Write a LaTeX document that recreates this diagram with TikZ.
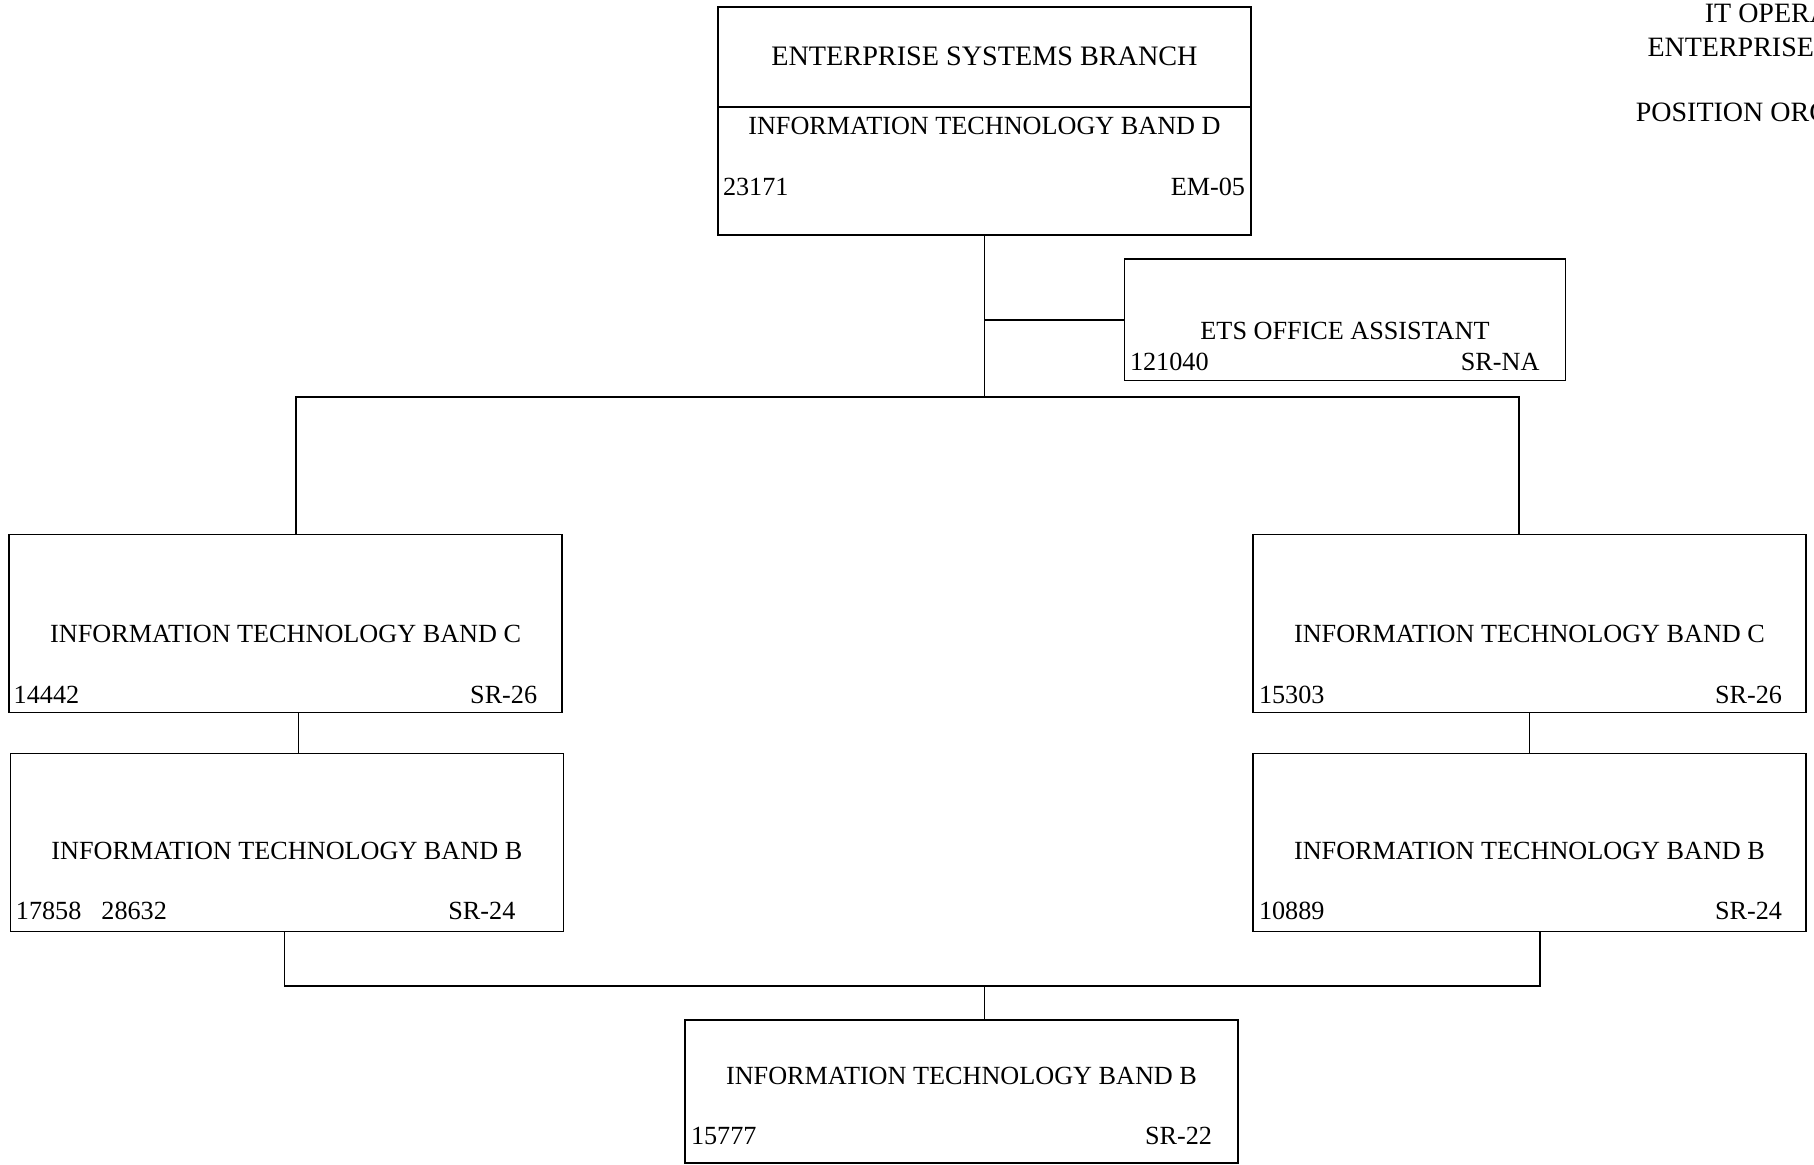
\documentclass[tikz,border=0pt]{standalone}
\usepackage{fontspec}
\setmainfont{Liberation Serif}
\usetikzlibrary{positioning,calc}

\begin{document}
\begin{tikzpicture}[x=0.5pt, y=0.5pt, line width=0.8pt,
    posbox/.style={rectangle, draw, inner sep=0pt, minimum width=276.5pt, minimum height=89pt},
    ttl/.style={font=\fontsize{13.1}{15}\selectfont, anchor=base, inner sep=0pt},
    num/.style={font=\fontsize{13.1}{15}\selectfont, inner sep=0pt},
    hdr/.style={font=\fontsize{14}{16}\selectfont, anchor=base west, inner sep=0pt}]
    \useasboundingbox (0,0) rectangle (1814,-1165);

    % header (cut at the page edge)
    \node [hdr] (hd1) at (1704,-22.7) {IT OPERA};
    \node [hdr] (hd2) at (1646.7,-56.7) {ENTERPRISE};
    \node [hdr] (hd3) at (1635,-121.7) {POSITION ORG};

    % boxes
    \node [posbox, minimum width=266.5pt, minimum height=114pt] (top) at (984.5,-121) {};
    \node [posbox, minimum width=220.5pt, minimum height=60.8pt] (ets) at (1345,-319.8) {};
    \node [posbox] (c1) at (285.65,-623.55) {};
    \node [posbox] (c2) at (1529.5,-623.55) {};
    \node [posbox, below=19.7pt of c1, xshift=0.6pt] (b1) {};
    \node [posbox, below=19.7pt of c2] (b2) {};
    \node [posbox, minimum height=71.4pt] (bot) at (961.5,-1091.4) {};

    % texts
    \draw ($(top.north west)+(0,-101)$) -- ($(top.north east)+(0,-101)$);
    \node [ttl, font=\fontsize{14.1}{16}\selectfont] (topt) at ($(top.north)+(0,-59)$) {ENTERPRISE SYSTEMS BRANCH};
    \node [ttl] (topb) at ($(top.north)+(0,-128)$) {INFORMATION TECHNOLOGY BAND D};
    \node [num, anchor=base west] (topn) at ($(top.south west)+(5,40)$) {23171};
    \node [num, anchor=base east] (topg) at ($(top.south east)+(-6,40)$) {EM-05};

    \node [ttl] (etst) at ($(ets.north)+(0,-81)$) {ETS OFFICE ASSISTANT};
    \node [num, anchor=base west] (etsn) at ($(ets.south west)+(5.5,10.6)$) {121040};
    \node [num, anchor=base east] (etsg) at ($(ets.south east)+(-26,10.6)$) {SR-NA};

    \node [ttl] (c1t) at ($(c1.north)+(0,-108.5)$) {INFORMATION TECHNOLOGY BAND C};
    \node [num, anchor=base west] (c1n) at ($(c1.south west)+(4.6,9.6)$) {14442};
    \node [num, anchor=base east] (c1g) at ($(c1.south east)+(-25,9.6)$) {SR-26};

    \node [ttl] (c2t) at ($(c2.north)+(0,-108.5)$) {INFORMATION TECHNOLOGY BAND C};
    \node [num, anchor=base west] (c2n) at ($(c2.south west)+(6,9.6)$) {15303};
    \node [num, anchor=base east] (c2g) at ($(c2.south east)+(-24,9.6)$) {SR-26};

    \node [ttl] (b1t) at ($(b1.north)+(0,-107)$) {INFORMATION TECHNOLOGY BAND B};
    \node [num, anchor=base west] (b1n) at ($(b1.south west)+(5.6,13)$) {17858\hspace{10pt}28632};
    \node [num, anchor=base east] (b1g) at ($(b1.south east)+(-48,13)$) {SR-24};

    \node [ttl] (b2t) at ($(b2.north)+(0,-107)$) {INFORMATION TECHNOLOGY BAND B};
    \node [num, anchor=base west] (b2n) at ($(b2.south west)+(6,13)$) {10889};
    \node [num, anchor=base east] (b2g) at ($(b2.south east)+(-24,13)$) {SR-24};

    \node [ttl] (bott) at ($(bot.north)+(0,-65)$) {INFORMATION TECHNOLOGY BAND B};
    \node [num, anchor=base west] (botn) at ($(bot.south west)+(6,18.7)$) {15777};
    \node [num, anchor=base east] (botg) at ($(bot.south east)+(-26,18.7)$) {SR-22};

    % connectors
    \coordinate (busl) at (296,-397);
    \coordinate (busr) at (1519,-397);
    \coordinate (jl) at (284.6,-985.7);
    \coordinate (jr) at (1540,-985.7);
    \draw (top.south) -- (top.south |- busl);
    \draw (top.south |- ets.west) -- (ets.west);
    \draw (c1.north -| busl) -- (busl) -- (busr) -- (c2.north -| busr);
    \draw ([xshift=6.4pt]c1.south) -- ([xshift=6.4pt]c1.south |- b1.north);
    \draw (c2.south) -- (b2.north);
    \draw (b1.south -| jl) -- (jl) -- (jr) -- (b2.south -| jr);
    \draw (top.south |- jl) -- (top.south |- bot.north);
\end{tikzpicture}
\end{document}
